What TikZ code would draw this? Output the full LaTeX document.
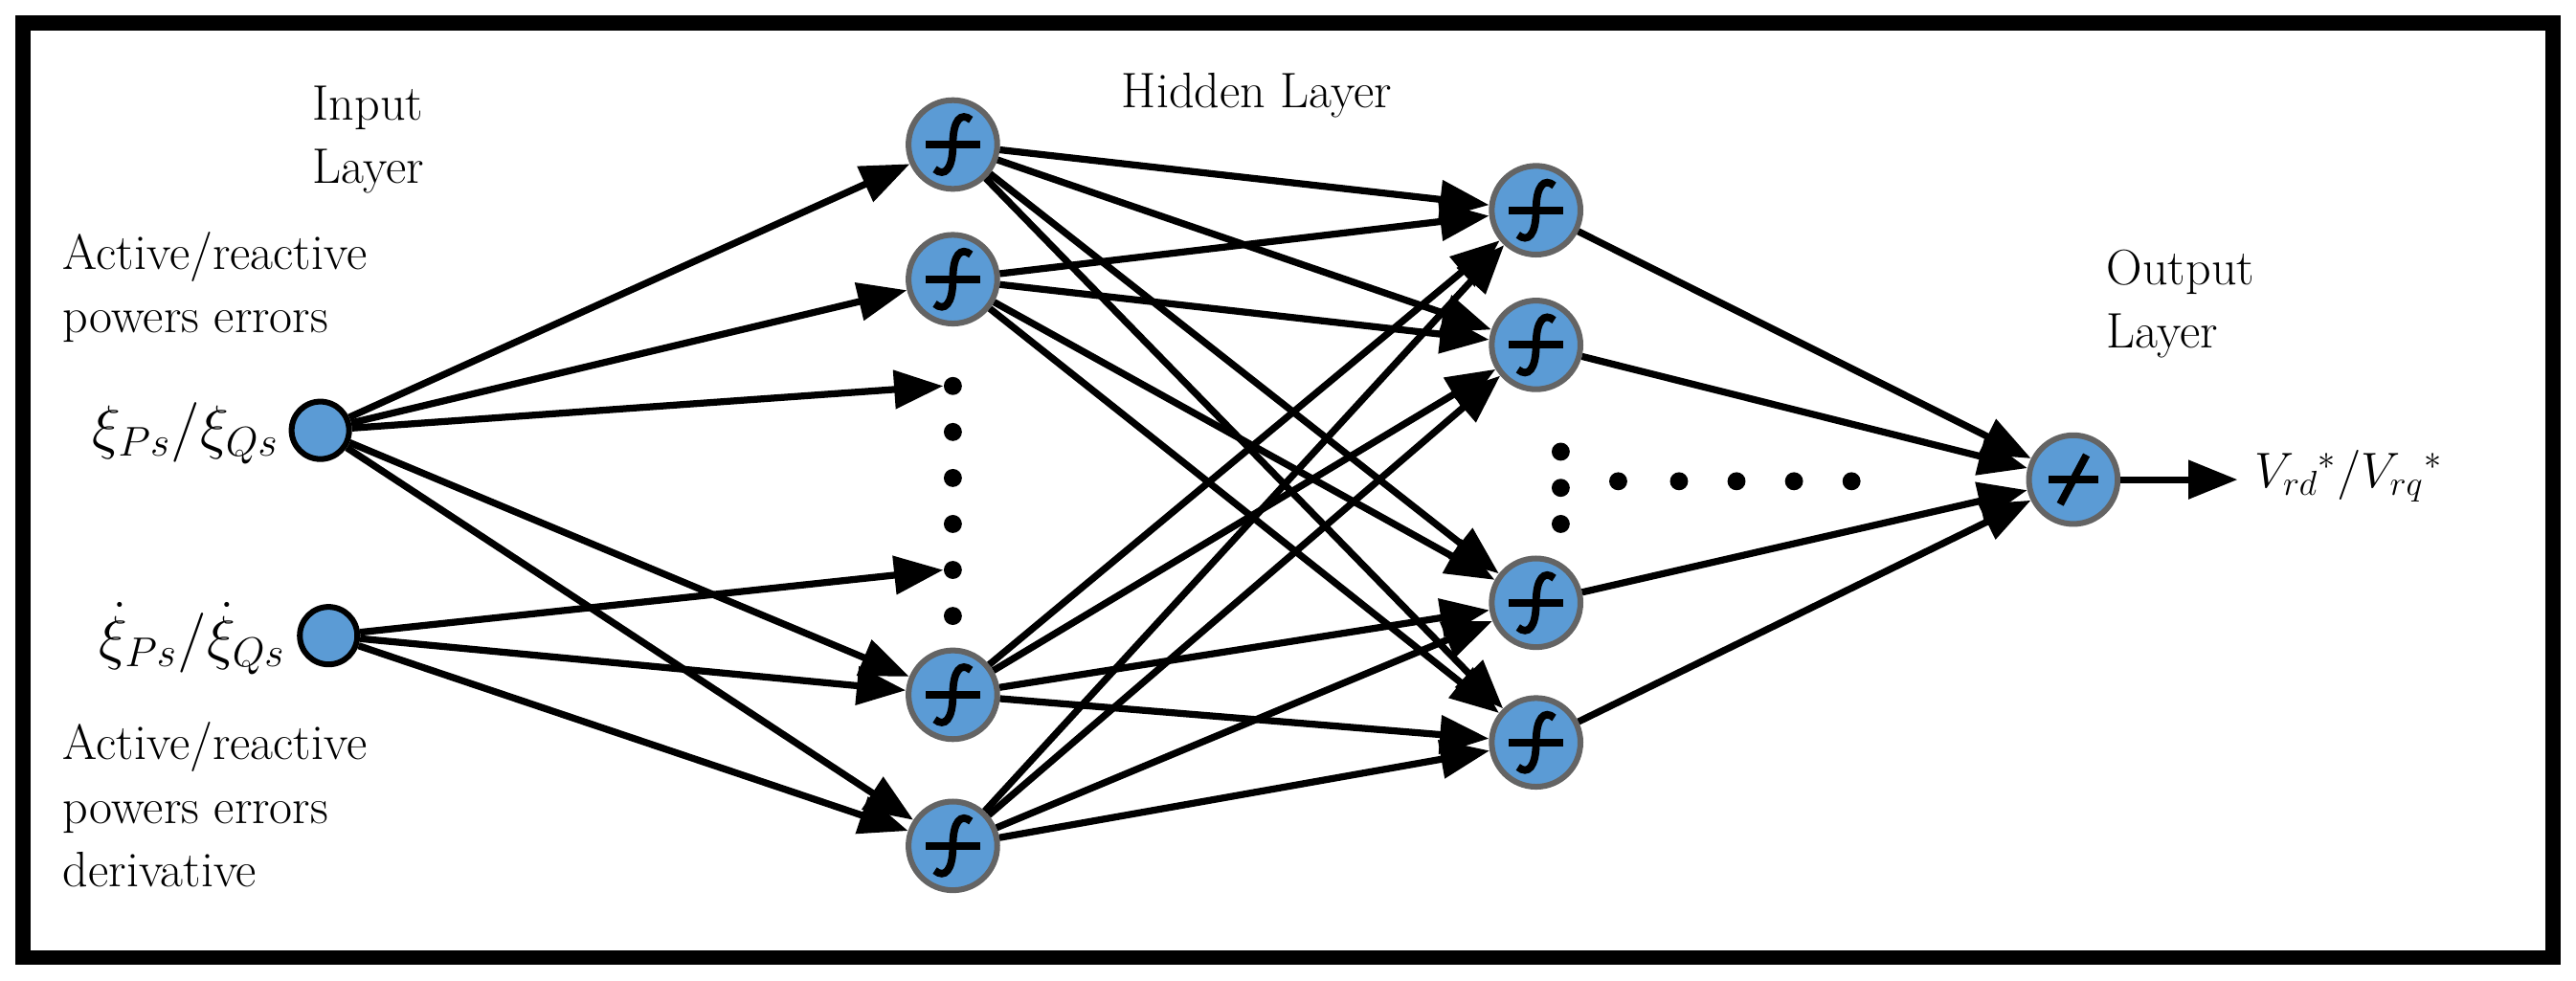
\documentclass[tikz,border=0pt]{standalone}
\usepackage{amsmath}
\usetikzlibrary{arrows.meta}
\definecolor{nb}{RGB}{91,155,213}
\definecolor{ng}{RGB}{100,100,100}
\begin{document}
\begin{tikzpicture}[x=0.02cm,y=-0.02cm,
  hid/.style={circle,draw=ng,line width=2pt,fill=nb,minimum size=1.08cm,inner sep=0pt},
  inp/.style={circle,draw=black,line width=2pt,fill=nb,minimum size=0.7cm,inner sep=0pt},
  dot/.style={circle,fill=black,minimum size=0.22cm,inner sep=0pt},
  con/.style={line width=2.4pt,-{Triangle[length=17pt,width=13pt]}},
  lab/.style={font=\LARGE,align=left,anchor=west,inner sep=0pt}]
\useasboundingbox (0,0) rectangle (1568,597);
\draw[line width=5pt] (14,14) rectangle (1554,583);
% nodes
\node[inp] (i1) at (195,262) {};
\node[inp] (i2) at (200,387) {};
\foreach \n/\y in {a/88,b/170,c/423,d/515}{\node[hid] (h\n) at (580,\y) {};}
\foreach \n/\y in {a/128,b/210,c/367,d/452}{\node[hid] (g\n) at (935,\y) {};}
\node[hid] (o) at (1262,292) {};
\foreach \k/\y in {1/235,2/263,3/291,4/319,5/347,6/375}{\node[dot] (d\k) at (580,\y) {};}
\foreach \k/\y in {1/275,2/297,3/319}{\node[dot] (v\k) at (950,\y) {};}
\foreach \k/\x in {1/985,2/1022,3/1057,4/1092,5/1127}{\node[dot] (e\k) at (\x,293) {};}
\coordinate (out) at (1362,292);
% symbols
\foreach \n in {ha,hb,hc,hd,ga,gb,gc,gd}{
  \draw[line width=2.6pt] ([xshift=-0.33cm]\n.center) -- ([xshift=0.33cm]\n.center);
  \draw[line width=2.6pt] ([xshift=0.22cm,yshift=0.3cm]\n.center) .. controls ([xshift=0.1cm,yshift=0.4cm]\n.center) and ([xshift=0.0cm,yshift=0.3cm]\n.center) .. (\n.center) .. controls ([xshift=0cm,yshift=-0.3cm]\n.center) and ([xshift=-0.1cm,yshift=-0.4cm]\n.center) .. ([xshift=-0.22cm,yshift=-0.3cm]\n.center);}
\draw[line width=2.6pt] ([xshift=-0.3cm]o.center) -- ([xshift=0.3cm]o.center);
\draw[line width=2.6pt] ([xshift=-0.16cm,yshift=-0.3cm]o.center) -- ([xshift=0.16cm,yshift=0.3cm]o.center);
% connections
\foreach \t in {ha,hb,hc,hd}{\draw[con] (i1) -- (\t);}
\draw[con] (i1) -- (d1.west);
\draw[con] (i2) -- (d5.west);
\foreach \t in {hc,hd}{\draw[con] (i2) -- (\t);}
\foreach \s in {ha,hb,hc,hd}{\foreach \t in {ga,gb,gc,gd}{\draw[con] (\s) -- (\t);}}
\foreach \s in {ga,gb,gc,gd}{\draw[con] (\s) -- (o);}
\draw[con] (o) -- (out);
% labels
\node[lab] (t1) at (190,85) {Input\\Layer};
\node[lab] (t2) at (38,175) {Active/reactive\\powers errors};
\node[lab] (t3) at (38,490) {Active/reactive\\powers errors\\derivative};
\node[font=\LARGE,inner sep=0pt] (t4) at (765,58) {Hidden Layer};
\node[lab] (t5) at (1282,185) {Output\\Layer};
\node[font=\huge,anchor=east,inner sep=0pt] (x1) at (170,264) {$\xi_{Ps}/\xi_{Qs}$};
\node[font=\huge,anchor=east,inner sep=0pt] (x2) at (174,389) {$\dot{\xi}_{Ps}/\dot{\xi}_{Qs}$};
\node[font=\LARGE,anchor=west,inner sep=0pt] (y) at (1372,290) {$V_{rd}{}^{*}/V_{rq}{}^{*}$};
\end{tikzpicture}
\end{document}
